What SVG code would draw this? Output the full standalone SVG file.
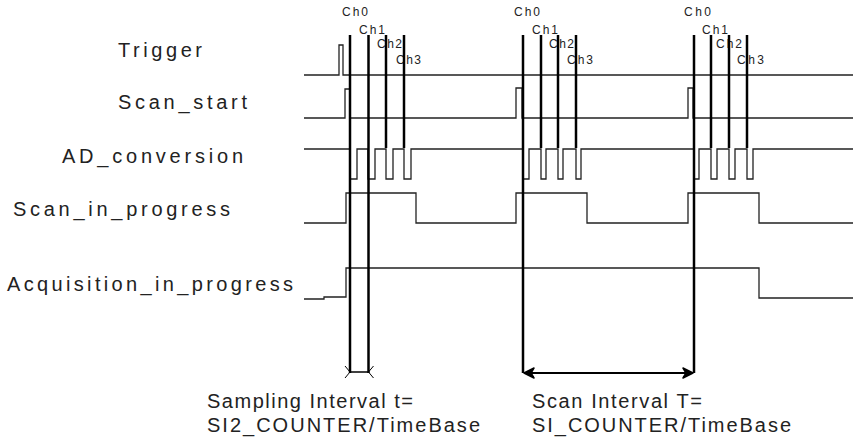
<svg xmlns="http://www.w3.org/2000/svg" width="853" height="438" viewBox="0 0 853 438">
<style>
  .sig { fill: none; stroke: #222; stroke-width: 1.3; }
  .ch { stroke: #000; stroke-width: 2.5; }
  .lbl { font-family: "Liberation Sans", Arial, sans-serif; font-size: 20px; fill: #222; }
  .chl { font-family: "Liberation Sans", Arial, sans-serif; font-size: 12px; fill: #222; }
  .arr { fill: none; stroke: #000; }
</style>
<rect width="853" height="438" fill="#fff"/>

<g id="trigger">
  <text class="lbl" x="118" y="57" textLength="84" lengthAdjust="spacing">Trigger</text>
  <path class="sig" d="M304,75 H339 V45 H343 V75 H853"/>
</g>
<g id="scan_start">
  <text class="lbl" x="118" y="109" textLength="129" lengthAdjust="spacing">Scan_start</text>
  <path class="sig" d="M304,118 H345 V89 H350 V118 H516 V88 H522 V118 H688 V88 H693 V118 H853"/>
</g>
<g id="ad_conversion">
  <text class="lbl" x="62" y="163" textLength="181" lengthAdjust="spacing">AD_conversion</text>
  <path class="sig" d="M304,149 H350 V179 H357 V149 H368 V179 H375 V149 H386 V179 H393 V149 H404 V179 H411 V149 H523 V179 H529 V149 H541 V179 H546 V149 H558 V179 H563 V149 H576 V179 H581 V149 H694 V179 H699 V149 H711 V179 H717 V149 H729 V179 H735 V149 H747 V179 H753 V149 H853"/>
</g>
<g id="scan_in_progress">
  <text class="lbl" x="13" y="216" textLength="217" lengthAdjust="spacing">Scan_in_progress</text>
  <path class="sig" d="M304,223 H346 V193 H416 V223 H516 V193 H587 V223 H688 V193 H759 V223 H853"/>
</g>
<g id="acquisition_in_progress">
  <text class="lbl" x="7" y="291" textLength="286" lengthAdjust="spacing">Acquisition_in_progress</text>
  <path class="sig" d="M304,299 H324 V297 H346 V268 H759 V298 H853"/>
</g>

<g id="channel_labels">
  <text class="chl" x="342" y="16" textLength="26" lengthAdjust="spacing">Ch0</text>
  <text class="chl" x="359" y="34" textLength="26" lengthAdjust="spacing">Ch1</text>
  <text class="chl" x="377" y="48" textLength="25" lengthAdjust="spacing">Ch2</text>
  <text class="chl" x="396" y="64" textLength="25" lengthAdjust="spacing">Ch3</text>
  <text class="chl" x="514" y="16" textLength="26" lengthAdjust="spacing">Ch0</text>
  <text class="chl" x="532" y="34" textLength="26" lengthAdjust="spacing">Ch1</text>
  <text class="chl" x="549" y="48" textLength="25" lengthAdjust="spacing">Ch2</text>
  <text class="chl" x="567" y="64" textLength="26" lengthAdjust="spacing">Ch3</text>
  <text class="chl" x="684" y="16" textLength="27" lengthAdjust="spacing">Ch0</text>
  <text class="chl" x="702" y="34" textLength="26" lengthAdjust="spacing">Ch1</text>
  <text class="chl" x="716" y="48" textLength="26" lengthAdjust="spacing">Ch2</text>
  <text class="chl" x="737" y="64" textLength="27" lengthAdjust="spacing">Ch3</text>
</g>

<g id="connectors">
  <line class="ch" x1="350" y1="35" x2="350" y2="373"/>
  <line class="ch" x1="368.5" y1="35" x2="368.5" y2="373"/>
  <line class="ch" x1="386" y1="35" x2="386" y2="148"/>
  <line class="ch" x1="404" y1="35" x2="404" y2="148"/>
  <line class="ch" x1="523" y1="35" x2="523" y2="373"/>
  <line class="ch" x1="541" y1="35" x2="541" y2="148"/>
  <line class="ch" x1="558" y1="35" x2="558" y2="148"/>
  <line class="ch" x1="576" y1="35" x2="576" y2="148"/>
  <line class="ch" x1="694" y1="35" x2="694" y2="373"/>
  <line class="ch" x1="711" y1="35" x2="711" y2="148"/>
  <line class="ch" x1="729" y1="35" x2="729" y2="148"/>
  <line class="ch" x1="747" y1="35" x2="747" y2="148"/>
</g>

<g id="sampling_interval">
  <line x1="350" y1="372" x2="368.5" y2="372" stroke="#000" stroke-width="1.5"/>
  <polyline class="arr" stroke-width="1" points="345,366 350,372 345,378"/>
  <polyline class="arr" stroke-width="1" points="373.5,366 368.5,372 373.5,378"/>
  <text class="lbl" x="207" y="408" textLength="206" lengthAdjust="spacing">Sampling Interval t=</text>
  <text class="lbl" x="207" y="432" textLength="273" lengthAdjust="spacing">SI2_COUNTER/TimeBase</text>
</g>

<g id="scan_interval">
  <line x1="524" y1="373" x2="693" y2="373" stroke="#000" stroke-width="2.2"/>
  <path d="M524,373 L534,368 L531,373 L534,378 Z" fill="#000" stroke="#000" stroke-width="1.5" stroke-linejoin="round"/>
  <path d="M693,373 L683,368 L686,373 L683,378 Z" fill="#000" stroke="#000" stroke-width="1.5" stroke-linejoin="round"/>
  <text class="lbl" x="532" y="408" textLength="170" lengthAdjust="spacing">Scan Interval T=</text>
  <text class="lbl" x="532" y="432" textLength="259" lengthAdjust="spacing">SI_COUNTER/TimeBase</text>
</g>
</svg>
